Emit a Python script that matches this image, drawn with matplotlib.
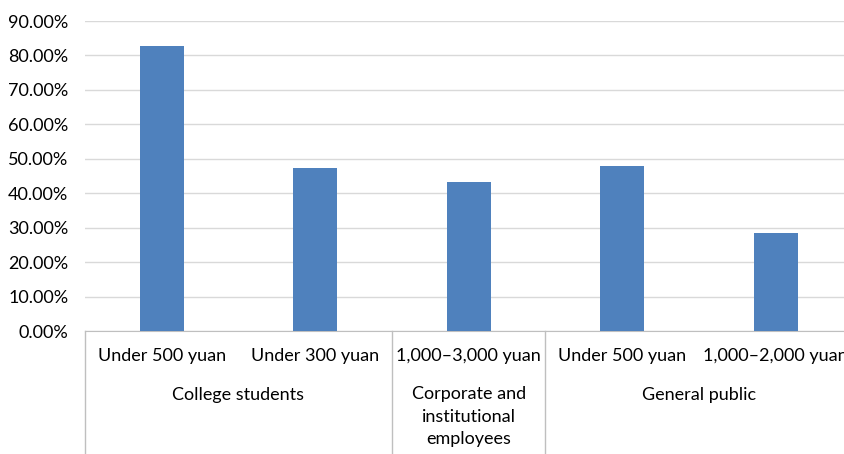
import matplotlib
matplotlib.use('Agg')
import matplotlib.pyplot as plt
from matplotlib.ticker import FuncFormatter

# subcategory labels, share values and outer groups
labels = ["Under 500 yuan", "Under 300 yuan", "1,000\u20133,000 yuan", "Under 500 yuan", "1,000\u20132,000 yuan"]
values = [0.828, 0.474, 0.432, 0.479, 0.284]
groups = ["College students", "Corporate and\ninstitutional\nemployees", "General public"]
group_spans = [(0, 1), (2, 2), (3, 4)]

plt.rcParams['font.family'] = ['Lato', 'DejaVu Sans']

W, H = 845, 454
fig = plt.figure(figsize=(W / 100, H / 100), dpi=100)
x0, x1, ytop, ybot = 85, 852.5, 21, 331
ax = fig.add_axes([x0 / W, 1 - ybot / H, (x1 - x0) / W, (ybot - ytop) / H])

ax.bar(range(len(values)), values, width=0.287, color='#4f81bd', zorder=3)
ax.set_xlim(-0.5, len(values) - 0.5)
ax.set_ylim(0, 0.9)
ax.set_yticks([i / 10 for i in range(10)])
ax.yaxis.set_major_formatter(FuncFormatter(lambda v, p: "%.2f%%" % (v * 100)))
ax.tick_params(axis='y', length=0, labelsize=13, pad=12, colors='#000000')
ax.grid(axis='y', color='#d9d9d9', linewidth=1, zorder=0)
ax.set_xticks([])
for s in ['top', 'right', 'left']:
    ax.spines[s].set_visible(False)
ax.spines['bottom'].set_color('#bfbfbf')

ah = ybot - ytop
tr = ax.get_xaxis_transform()
for i, lab in enumerate(labels):
    ax.text(i, -(356 - ybot) / ah, lab, transform=tr, ha='center', va='center', fontsize=13)
for g, (a, b) in zip(groups, group_spans):
    if '\n' in g:
        ax.text((a + b) / 2, -(386 - ybot) / ah, g, transform=tr, ha='center', va='top',
                fontsize=13, linespacing=1.5)
    else:
        ax.text((a + b) / 2, -(395 - ybot) / ah, g, transform=tr, ha='center', va='center', fontsize=13)

# separator lines between outer groups
for xs in [-0.5, 1.5, 2.5, 4.5]:
    ax.plot([xs, xs], [0, -(H - ybot) / ah], transform=tr, color='#bfbfbf', linewidth=1, clip_on=False)

plt.savefig('out.png', dpi=100)
